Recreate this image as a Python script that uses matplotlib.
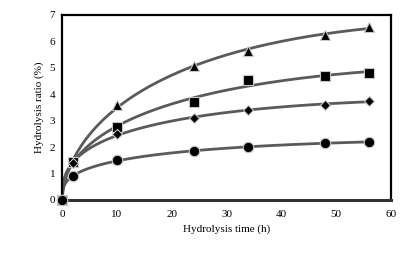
import numpy as np
import matplotlib
matplotlib.use("Agg")
import matplotlib.pyplot as plt

time_h = [0, 2, 10, 24, 34, 48, 56]
triangle = [0, 1.45, 3.6, 5.05, 5.65, 6.25, 6.55]
square = [0, 1.45, 2.75, 3.7, 4.55, 4.7, 4.8]
diamond = [0, 1.4, 2.5, 3.1, 3.4, 3.6, 3.75]
circle = [0, 0.9, 1.5, 1.85, 2.0, 2.15, 2.2]

plt.rcParams['font.family'] = ['Liberation Serif', 'DejaVu Serif']

fig = plt.figure(figsize=(4.06, 2.72), dpi=100)
ax = fig.add_axes([0.153, 0.265, 0.81, 0.68])

t = np.array(time_h, dtype=float)
tt = np.linspace(0, 56, 400)

def basis(x):
    return np.column_stack([x ** 0.3, x ** 0.6, x])

series = [(triangle, '^', 7.5), (square, 's', 6.5), (diamond, 'D', 5.5), (circle, 'o', 7.5)]
for vals, mk, ms in series:
    y = np.array(vals, dtype=float)
    coef, *_ = np.linalg.lstsq(basis(t), y, rcond=None)
    ax.plot(tt, basis(tt) @ coef, color='#5a5a5a', lw=2.0, zorder=2)
    ax.plot(t, y, ls='none', marker=mk, ms=ms, mfc='black', mec='#c8c8c8', mew=0.8, zorder=3, clip_on=False)

ax.set_xlim(0, 60)
ax.set_ylim(0, 7)
ax.set_xticks(range(0, 61, 10))
ax.set_yticks(range(0, 8))
for s in ax.spines.values():
    s.set_color('black')
    s.set_linewidth(1.6)
ax.spines['bottom'].set_color('#333333')
ax.spines['bottom'].set_linewidth(2.2)
ax.tick_params(axis='x', length=0, labelsize=8, pad=7)
ax.tick_params(axis='y', length=0, labelsize=8, pad=5)
ax.set_xlabel('Hydrolysis time (h)', fontsize=8, labelpad=4)
ax.set_ylabel('Hydrolysis ratio (%)', fontsize=8, labelpad=4)

fig.savefig('out.png', dpi=100)
